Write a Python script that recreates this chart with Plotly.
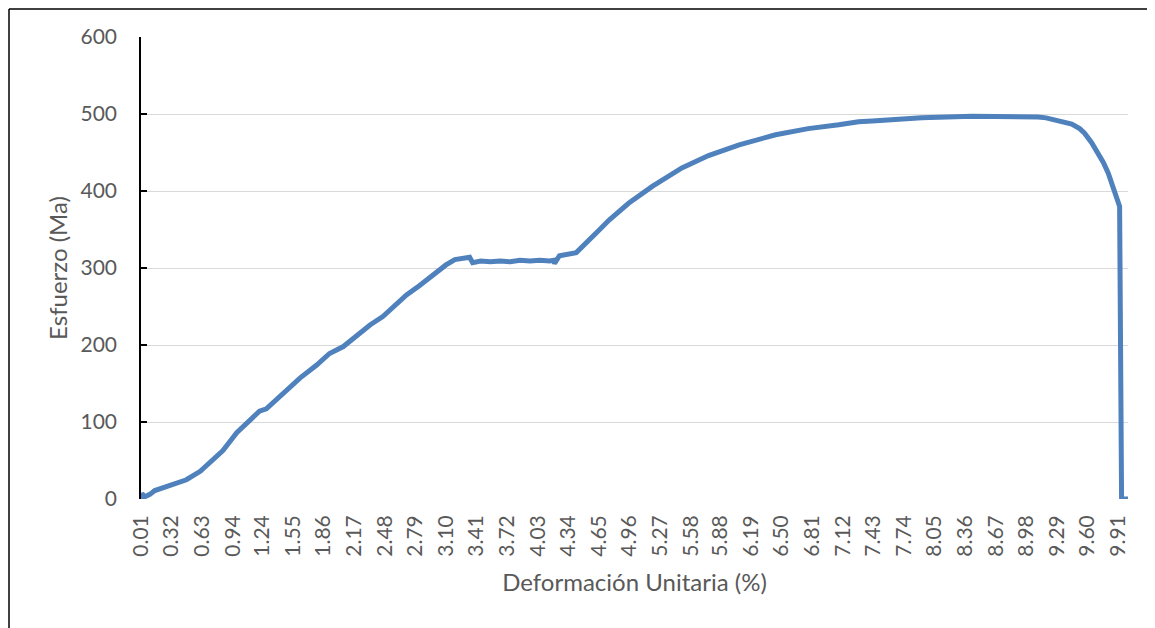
import plotly.graph_objects as go

# strain (%) and stress values
strain = [0.01, 0.02, 0.05, 0.10, 0.15, 0.25, 0.34, 0.47, 0.61, 0.71,
          0.84, 0.98, 1.08, 1.21, 1.28, 1.42, 1.62, 1.79, 1.92, 2.06,
          2.16, 2.33, 2.46, 2.56, 2.70, 2.83, 2.97, 3.10, 3.19, 3.27,
          3.34, 3.37, 3.45, 3.55, 3.65, 3.75, 3.85, 3.95, 4.05, 4.15,
          4.19, 4.20, 4.25, 4.42, 4.47, 4.65, 4.75, 4.95, 5.19, 5.49,
          5.76, 6.07, 6.44, 6.77, 7.08, 7.28, 7.42, 7.92, 8.43, 8.83,
          9.10, 9.18, 9.26, 9.34, 9.44, 9.52, 9.57, 9.64, 9.71, 9.76,
          9.81, 9.86, 9.90, 9.925, 9.945, 10.01]
stress = [0, 7, 3, 6, 11, 15, 20, 25, 36, 48,
          63, 86, 98, 114, 117, 133, 157, 174, 189, 198,
          209, 226, 237, 248, 265, 277, 292, 304, 311, 312,
          314, 307, 309, 308, 309, 308, 310, 309, 310, 309,
          310, 306, 316, 320, 326, 349, 362, 384, 406, 430,
          446, 460, 473, 481, 486, 490, 491, 495, 497, 497,
          496, 495, 493, 491, 487, 481, 475, 463, 449, 437,
          423, 406, 393, 380, 0, 0]

x_labels = ["0.01", "0.32", "0.63", "0.94", "1.24", "1.55", "1.86", "2.17",
            "2.48", "2.79", "3.10", "3.41", "3.72", "4.03", "4.34", "4.65",
            "4.96", "5.27", "5.58", "5.88", "6.19", "6.50", "6.81", "7.12",
            "7.43", "7.74", "8.05", "8.36", "8.67", "8.98", "9.29", "9.60",
            "9.91"]

font_name = "Lato"
grey = "#595959"

fig = go.Figure()
fig.add_trace(go.Scatter(
    x=strain, y=stress, mode="lines",
    line=dict(color="#4f81bd", width=5),
    showlegend=False,
))

# the page body adds an 8px offset, so margins are trimmed to compensate
fig.update_layout(
    width=1155, height=628,
    margin=dict(l=133, r=35, t=29, b=137),
    paper_bgcolor="white", plot_bgcolor="white",
    font=dict(family=font_name, color=grey, size=21),
)

fig.update_xaxes(
    range=[0.01, 10.01],
    tickvals=[float(v) for v in x_labels],
    ticktext=x_labels,
    tickangle=-90,
    tickfont=dict(size=21, color=grey),
    ticklabelstandoff=11,
    showgrid=False, zeroline=False, showline=False, ticks="",
    title=dict(text="Deformación Unitaria (%)", font=dict(size=24, color=grey), standoff=18),
)
fig.update_yaxes(
    range=[0, 600],
    tickvals=[0, 100, 200, 300, 400, 500, 600],
    tickfont=dict(size=21, color=grey),
    showgrid=True, gridcolor="#d9d9d9", gridwidth=1.3,
    zeroline=False,
    showline=True, linecolor="black", linewidth=1.5,
    ticks="inside", ticklen=6, tickcolor="black", tickwidth=1.5,
    ticklabelstandoff=18,
    title=dict(text="Esfuerzo (Ma)", font=dict(size=24, color=grey), standoff=6),
)

# outer chart border (top and left edges only), at the figure's own edge
plot_w, plot_h = 987, 462
bx = -132 / plot_w
by = 1 + 28 / plot_h
fig.add_shape(type="line", xref="paper", yref="paper",
              x0=bx, x1=1.04, y0=by, y1=by,
              line=dict(color="black", width=1.5))
fig.add_shape(type="line", xref="paper", yref="paper",
              x0=bx, x1=bx, y0=by, y1=-0.3,
              line=dict(color="black", width=1.5))

fig.write_html("out.html")
